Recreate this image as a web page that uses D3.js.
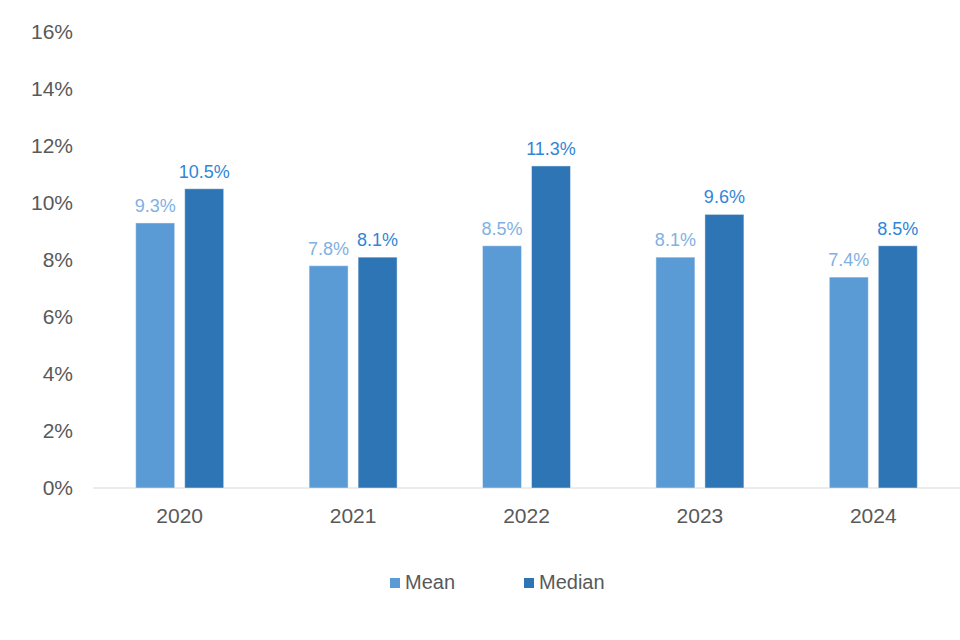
<!DOCTYPE html>
<html>
<head>
<meta charset="utf-8">
<script src="https://cdn.jsdelivr.net/npm/d3@7"></script>
<style>
  body { margin: 0; background: #fff; }
  svg { font-family: "Liberation Sans", Arial, sans-serif; }
</style>
</head>
<body>
<script>
// chart data
const years = ['2020', '2021', '2022', '2023', '2024'];
const seriesNames = ['Mean', 'Median'];
const meanValues = [9.3, 7.8, 8.5, 8.1, 7.4];
const medianValues = [10.5, 8.1, 11.3, 9.6, 8.5];
const yTicks = [0, 2, 4, 6, 8, 10, 12, 14, 16];

const fills = ['#5B9BD5', '#2E75B6'];
const labelColors = ['#7FB1E2', '#2F86D8'];

const width = 960, height = 640;
const margin = {top: 32, right: 0, bottom: 152, left: 93};

const svg = d3.select('body').append('svg')
    .attr('width', width).attr('height', height);

const x = d3.scaleBand().domain(years)
    .range([margin.left, width - margin.right]);
// the pair of bars takes about half of each category band
const groupW = x.bandwidth() * 0.5075;
const xInner = d3.scaleBand().domain(seriesNames)
    .range([(x.bandwidth() - groupW) / 2, (x.bandwidth() + groupW) / 2])
    .paddingInner(0.204).paddingOuter(0);
const y = d3.scaleLinear().domain([0, 16])
    .range([height - margin.bottom, margin.top]);

// y tick labels (no axis line)
svg.append('g').selectAll('text').data(yTicks).join('text')
    .attr('x', 73).attr('y', d => y(d)).attr('dy', '0.35em')
    .attr('text-anchor', 'end')
    .attr('font-size', 21).attr('fill', '#595959')
    .text(d => d + '%');

// baseline
svg.append('line')
    .attr('x1', margin.left).attr('x2', width - margin.right)
    .attr('y1', y(0)).attr('y2', y(0))
    .attr('stroke', '#D9D9D9').attr('stroke-width', 1.2);

// x labels
svg.append('g').selectAll('text').data(years).join('text')
    .attr('x', d => x(d) + x.bandwidth() / 2).attr('y', y(0) + 35)
    .attr('text-anchor', 'middle')
    .attr('font-size', 21).attr('fill', '#595959')
    .text(d => d);

const rows = years.map((yr, i) => ({year: yr, values: [meanValues[i], medianValues[i]]}));

const groups = svg.append('g').selectAll('g').data(rows).join('g')
    .attr('transform', d => `translate(${x(d.year)},0)`);

groups.selectAll('rect').data(d => d.values.map((v, i) => ({name: seriesNames[i], v, i})))
    .join('rect')
    .attr('x', d => xInner(d.name)).attr('width', xInner.bandwidth())
    .attr('y', d => y(d.v)).attr('height', d => y(0) - y(d.v))
    .attr('fill', d => fills[d.i])
    .attr('stroke', 'rgba(255,255,255,0.45)').attr('stroke-width', 1);

groups.selectAll('text').data(d => d.values.map((v, i) => ({name: seriesNames[i], v, i})))
    .join('text')
    .attr('x', d => xInner(d.name) + xInner.bandwidth() / 2)
    .attr('y', d => y(d.v) - 11)
    .attr('text-anchor', 'middle')
    .attr('font-size', 18).attr('fill', d => labelColors[d.i])
    .text(d => d.v.toFixed(1) + '%');

// legend
const legendX = [390, 524];
const legend = svg.append('g').selectAll('g').data(seriesNames).join('g')
    .attr('transform', (d, i) => `translate(${legendX[i]},578)`);
legend.append('rect').attr('width', 10).attr('height', 10)
    .attr('fill', (d, i) => fills[i]);
legend.append('text').attr('x', 15).attr('y', 11)
    .attr('font-size', 20).attr('fill', '#595959')
    .text(d => d);
</script>
</body>
</html>
